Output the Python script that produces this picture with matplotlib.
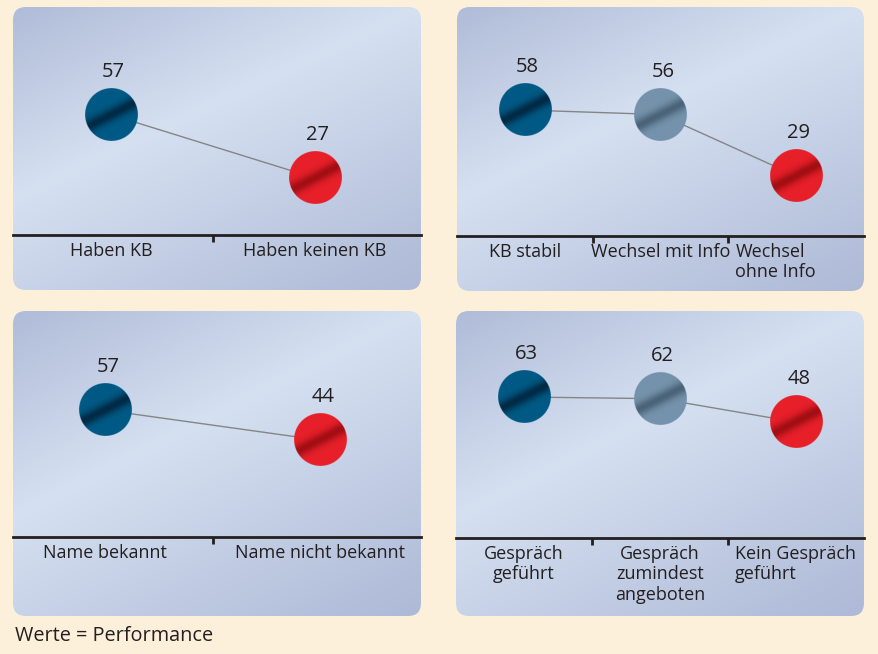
import numpy as np
import matplotlib
matplotlib.use('Agg')
import matplotlib.pyplot as plt
import matplotlib.transforms as mtransforms
from matplotlib.patches import FancyBboxPatch
from matplotlib.colors import to_rgb

plt.rcParams['font.family'] = ['Open Sans', 'DejaVu Sans']

# Data
labels_kb = ['Haben KB', 'Haben keinen KB']
values_kb = [57, 27]
labels_wechsel = ['KB stabil', 'Wechsel mit Info', 'Wechsel\nohne Info']
values_wechsel = [58, 56, 29]
labels_name = ['Name bekannt', 'Name nicht bekannt']
values_name = [57, 44]
labels_gespraech = ['Gespräch\ngeführt', 'Gespräch\nzumindest\nangeboten', 'Kein Gespräch\ngeführt']
values_gespraech = [63, 62, 48]
footnote = 'Werte = Performance'

W, H = 879, 654
BG = '#fdf0da'
TEXT = '#231f20'

# ball colours: (edge, dark band)
BLUE = ('#005a85', '#002a45')
GREY = ('#7593ac', '#4a6378')
RED = ('#e8202a', '#a20e14')

fig = plt.figure(figsize=(W / 100, H / 100), dpi=100, facecolor=BG)

# background layer in pixel units
bg = fig.add_axes([0, 0, 1, 1], zorder=0)
bg.set_xlim(0, W)
bg.set_ylim(H, 0)
bg.axis('off')


def panel_gradient(w, h):
	y, x = np.mgrid[0:h, 0:w]
	u = 0.405 * x / w + 0.595 * y / h
	c_tl = np.array(to_rgb('#b0bcd8'))
	c_mid = np.array(to_rgb('#d5e0f1'))
	c_br = np.array(to_rgb('#adb9d6'))
	t1 = np.clip(u / 0.4, 0, 1)[..., None]
	t2 = np.clip((u - 0.4) / 0.6, 0, 1)[..., None]
	return np.where(u[..., None] < 0.4, c_tl + (c_mid - c_tl) * t1, c_mid + (c_br - c_mid) * t2)


def draw_panel(x0, top, w, h):
	box = FancyBboxPatch((x0, top), w, h, boxstyle='round,pad=0,rounding_size=13',
			facecolor='none', edgecolor='none')
	bg.add_patch(box)
	im = bg.imshow(panel_gradient(w, h), extent=(x0, x0 + w, top + h, top), aspect='auto', interpolation='bilinear')
	im.set_clip_path(box)


def draw_ball(ax, x, v, colors, r_in=0.262):
	n = 200
	yy, xx = np.mgrid[-1:1:n * 1j, -1:1:n * 1j]
	# dark band running from lower left to upper right
	d = 0.45 * xx + 0.89 * yy
	wgt = np.exp(-(d / 0.24) ** 2)[..., None]
	edge, dark = np.array(to_rgb(colors[0])), np.array(to_rgb(colors[1]))
	rgb = edge + (dark - edge) * wgt
	rr = np.sqrt(xx ** 2 + yy ** 2)
	alpha = np.clip((1 - rr) * n / 2 + 0.5, 0, 1)[..., None]
	img = np.concatenate([rgb, alpha], axis=-1)
	tr = (mtransforms.Affine2D().scale(r_in) + fig.dpi_scale_trans
			+ mtransforms.ScaledTranslation(x, v, ax.transData))
	ax.imshow(img, extent=(-1, 1, -1, 1), transform=tr, aspect='auto', interpolation='antialiased', zorder=3)


def draw_chart(rect, axis_y, labels, values, xlim, ylim):
	x0, top, w, h = rect
	draw_panel(x0, top, w, h)
	ax = fig.add_axes([x0 / W, 1 - axis_y / H, w / W, (axis_y - top) / H], zorder=1)
	ax.patch.set_visible(False)
	n = len(values)
	xs = np.arange(n)
	colors = [BLUE, RED] if n == 2 else [BLUE, GREY, RED]

	ax.plot(xs, values, color='#858585', lw=1.0, zorder=2)
	for i, v in enumerate(values):
		draw_ball(ax, i, v, colors[i])
		ax.annotate(str(v), (i, v), xytext=(2, 31), textcoords='offset points',
				ha='center', va='center', fontsize=14.5, color=TEXT)
	for i, lab in enumerate(labels):
		if n == 3 and i == n - 1:
			ax.annotate(lab, (i - 0.5, 0), xycoords=('data', 'axes fraction'), xytext=(5, -5),
					textcoords='offset points', ha='left', va='top', fontsize=13, color=TEXT, linespacing=1.17)
		else:
			ax.annotate(lab, (i, 0), xycoords=('data', 'axes fraction'), xytext=(0, -5),
					textcoords='offset points', ha='center', va='top', fontsize=13, color=TEXT,
					multialignment='center', linespacing=1.17)

	ax.set_xlim(*xlim)
	ax.set_ylim(*ylim)
	ax.set_xticks([])
	ax.set_xticks(np.arange(n - 1) + 0.5, minor=True)
	ax.tick_params(which='minor', length=5, width=2, color=TEXT, direction='out', labelbottom=False)
	ax.set_yticks([])
	for s in ['top', 'left', 'right']:
		ax.spines[s].set_visible(False)
	ax.spines['bottom'].set_color(TEXT)
	ax.spines['bottom'].set_linewidth(2)
	return ax


draw_chart((13, 7, 408, 283), 235, labels_kb, values_kb, (-0.48, 1.52), (0, 108))
draw_chart((457, 7, 407, 284), 236, labels_wechsel, values_wechsel, (-0.5, 2.5), (2.6, 103.3))
draw_chart((13, 311, 408, 305), 537, labels_name, values_name, (-0.43, 1.47), (2, 100))
draw_chart((456, 311, 408, 305), 538, labels_gespraech, values_gespraech, (-0.5, 2.5), (-21.4, 114.5))

fig.text(15 / W, 1 - 636 / H, footnote, ha='left', va='center', fontsize=14.3, color=TEXT)

fig.savefig('out.png', dpi=100, facecolor=BG)
